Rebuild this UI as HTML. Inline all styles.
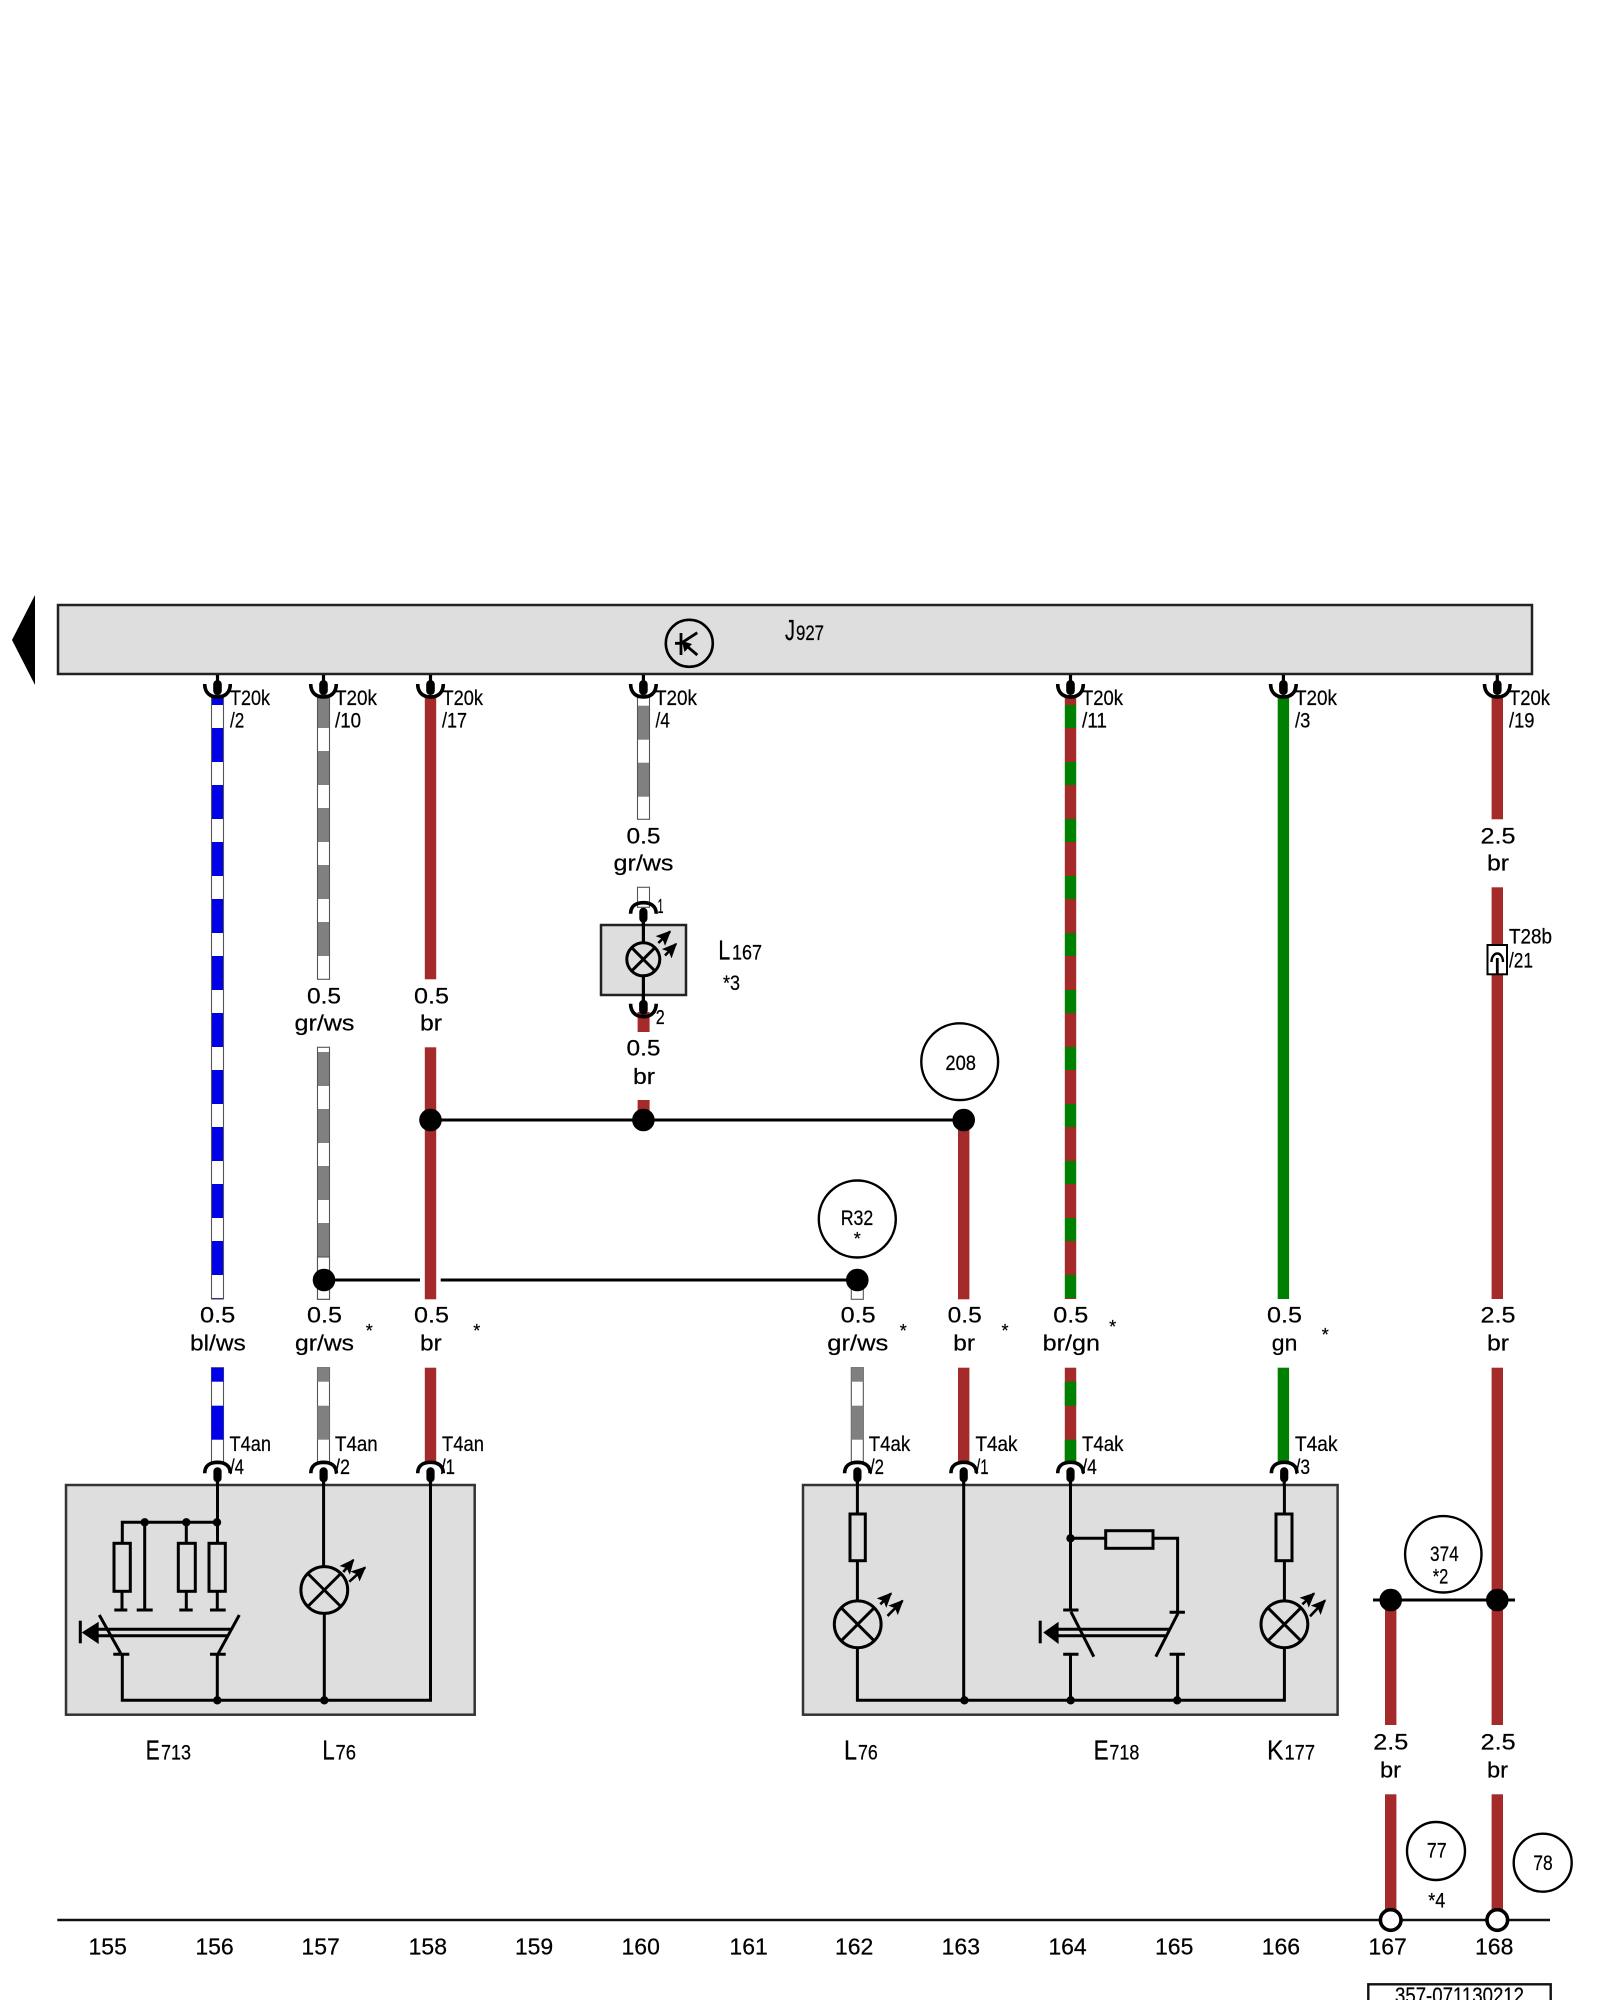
<!DOCTYPE html>
<html lang="de"><head><meta charset="utf-8"><title>Wiring diagram 357-071130212</title>
<style>html,body{margin:0;padding:0;background:#fff}svg{display:block}text{font-family:"Liberation Sans",Arial,sans-serif;fill:#000;stroke:#000;stroke-width:.22}</style></head>
<body>
<svg xmlns="http://www.w3.org/2000/svg" width="1600" height="2000" viewBox="0 0 1600 2000">
<defs>
<pattern id="pA" patternUnits="userSpaceOnUse" x="0" y="728" width="1600" height="57"><rect width="1600" height="57" fill="#fff"/><rect width="1600" height="34" fill="#0000e8"/></pattern>
<pattern id="pB" patternUnits="userSpaceOnUse" x="0" y="751" width="1600" height="57"><rect width="1600" height="57" fill="#fff"/><rect width="1600" height="34" fill="#808080"/></pattern>
<pattern id="pC" patternUnits="userSpaceOnUse" x="0" y="1052" width="1600" height="57"><rect width="1600" height="57" fill="#fff"/><rect width="1600" height="34" fill="#808080"/></pattern>
<pattern id="pD" patternUnits="userSpaceOnUse" x="0" y="705.7" width="1600" height="57"><rect width="1600" height="57" fill="#fff"/><rect width="1600" height="34" fill="#808080"/></pattern>
<pattern id="pE" patternUnits="userSpaceOnUse" x="0" y="728" width="1600" height="57"><rect width="1600" height="57" fill="#008000"/><rect width="1600" height="34" fill="#a52a2a"/></pattern>
<marker id="ah" viewBox="0 0 10 10" refX="9" refY="5" markerWidth="15" markerHeight="15" orient="auto" markerUnits="userSpaceOnUse"><path d="M0 0.5L10 5L0 9.5L2 5Z" fill="#000"/></marker>
<g id="cup"><line x1="0" y1="0" x2="0" y2="8" stroke="#000" stroke-width="3.2"/><rect x="-4.3" y="5" width="8.6" height="15" rx="4.3" fill="#000"/><path d="M-12.8 9C-12.8 18-7 22 0 22C7 22 12.8 18 12.8 9" fill="none" stroke="#000" stroke-width="3.6"/></g>
<g id="arc"><rect x="-4.1" y="5" width="8.2" height="15" rx="4.1" fill="#000"/><line x1="0" y1="15" x2="0" y2="23" stroke="#000" stroke-width="3.2"/><path d="M-12.8 11C-12.8 3-7 0 0 0C7 0 12.8 3 12.8 11" fill="none" stroke="#000" stroke-width="3.6"/></g>
<g id="lamp" fill="none" stroke="#000" stroke-width="3"><circle r="23.4"/><path d="M-16.5 -16.5L16.5 16.5M16.5 -16.5L-16.5 16.5"/></g>
</defs>
<rect width="1600" height="2000" fill="#fff"/>

<!-- top module -->
<polygon points="12,640 35,595 35,685" fill="#000"/>
<rect x="58" y="605" width="1474" height="69" fill="#dedede" stroke="#222" stroke-width="2.5"/>
<circle cx="689.3" cy="643.3" r="23.5" fill="none" stroke="#000" stroke-width="2.6"/>
<path d="M675 643.3H681M681 633V655M681 643.3L697.3 632.7M681.7 641.7L697.3 655" stroke="#000" stroke-width="2.8" fill="none"/>
<polygon points="682,641 692,644 684.5,652" fill="#000"/>
<text x="785" y="640" font-size="29" textLength="10" lengthAdjust="spacingAndGlyphs">J</text>
<text x="796" y="640" font-size="21" textLength="28" lengthAdjust="spacingAndGlyphs">927</text>

<!-- wires: long segments -->
<g stroke="#555" stroke-width="1.1">
<rect x="211.5" y="695" width="12" height="604" fill="url(#pA)"/>
<rect x="317.5" y="695" width="12" height="284.3" fill="url(#pB)"/>
<rect x="317.5" y="1047.3" width="12" height="252" fill="url(#pC)"/>
<rect x="317.5" y="1257" width="12" height="42.3" fill="#fff"/>
<rect x="637.5" y="695" width="12" height="124.3" fill="url(#pD)"/>
<rect x="637.5" y="887.3" width="12" height="20" fill="#fff"/>
<rect x="851.3" y="1280" width="12" height="19.3" fill="#fff"/>
</g>
<rect x="1064.8" y="695" width="11.4" height="604" fill="url(#pE)"/>
<g fill="#a52a2a">
<rect x="424.8" y="695" width="11.4" height="284.3"/>
<rect x="424.8" y="1047.3" width="11.4" height="252"/>
<rect x="424.8" y="1367.7" width="11.4" height="96"/>
<rect x="958" y="1120" width="11.4" height="179.3"/>
<rect x="958" y="1367.7" width="11.4" height="96"/>
<rect x="1491.6" y="695" width="11.4" height="124.3"/>
<rect x="1491.6" y="887.3" width="11.4" height="411.7"/>
<rect x="1491.6" y="1367.7" width="11.4" height="357.3"/>
<rect x="1491.6" y="1794.3" width="11.4" height="116"/>
<rect x="1385" y="1600" width="11.4" height="125"/>
<rect x="1385" y="1794.3" width="11.4" height="116"/>
<rect x="637.6" y="1012" width="12" height="20"/>
<rect x="637.6" y="1100" width="12" height="20"/>
</g>
<rect x="1277.7" y="695" width="11.4" height="604" fill="#008000"/>
<rect x="1277.7" y="1367.7" width="11.4" height="96" fill="#008000"/>

<!-- wires: short lower striped -->
<g stroke="#555" stroke-width="1.1" fill="#fff">
<rect x="211.5" y="1367.7" width="12" height="96"/>
<rect x="317.5" y="1367.7" width="12" height="96"/>
<rect x="851.3" y="1367.7" width="12" height="96"/>
</g>
<g fill="#0000e8"><rect x="211.5" y="1367.7" width="12" height="14"/><rect x="211.5" y="1405.7" width="12" height="34"/></g>
<g fill="#808080"><rect x="317.5" y="1367.7" width="12" height="14"/><rect x="317.5" y="1405.7" width="12" height="34"/><rect x="851.3" y="1367.7" width="12" height="14"/><rect x="851.3" y="1405.7" width="12" height="34"/></g>
<rect x="1064.8" y="1367.7" width="11.4" height="96" fill="#a52a2a"/>
<g fill="#008000"><rect x="1064.8" y="1381.7" width="11.4" height="24"/><rect x="1064.8" y="1439.7" width="11.4" height="24"/></g>

<!-- connection lines -->
<g stroke="#000" stroke-width="3" fill="none">
<path d="M430.5 1120H964"/>
<path d="M324 1280H420M440.7 1280H857.3"/>
<path d="M1373 1600H1515"/>
</g>
<g fill="#000">
<circle cx="430.5" cy="1120" r="11.3"/><circle cx="643.4" cy="1120" r="11.3"/><circle cx="963.7" cy="1120" r="11.3"/>
<circle cx="324" cy="1280" r="11.3"/><circle cx="857.3" cy="1280" r="11.3"/>
<circle cx="1390.7" cy="1600" r="11.3"/><circle cx="1497.3" cy="1600" r="11.3"/>
</g>

<!-- top connectors -->
<use href="#cup" x="217.5" y="675"/><use href="#cup" x="323.5" y="675"/><use href="#cup" x="430.5" y="675"/><use href="#cup" x="643.4" y="675"/>
<use href="#cup" x="1070.5" y="675"/><use href="#cup" x="1283.4" y="675"/><use href="#cup" x="1497.3" y="675"/>
<g font-size="21">
<text x="230" y="705" textLength="40" lengthAdjust="spacingAndGlyphs">T20k</text><text x="230" y="727.7" textLength="14.3" lengthAdjust="spacingAndGlyphs">/2</text>
<text x="335" y="705" textLength="42" lengthAdjust="spacingAndGlyphs">T20k</text><text x="335" y="727.7" textLength="26" lengthAdjust="spacingAndGlyphs">/10</text>
<text x="442.5" y="705" textLength="40.5" lengthAdjust="spacingAndGlyphs">T20k</text><text x="442" y="727.7" textLength="25" lengthAdjust="spacingAndGlyphs">/17</text>
<text x="655" y="705" textLength="42" lengthAdjust="spacingAndGlyphs">T20k</text><text x="655.5" y="727.7" textLength="14.3" lengthAdjust="spacingAndGlyphs">/4</text>
<text x="1082" y="705" textLength="41" lengthAdjust="spacingAndGlyphs">T20k</text><text x="1082" y="727.7" textLength="25" lengthAdjust="spacingAndGlyphs">/11</text>
<text x="1295" y="705" textLength="42" lengthAdjust="spacingAndGlyphs">T20k</text><text x="1295" y="727.7" textLength="15.3" lengthAdjust="spacingAndGlyphs">/3</text>
<text x="1509" y="705" textLength="41" lengthAdjust="spacingAndGlyphs">T20k</text><text x="1509" y="727.7" textLength="25.5" lengthAdjust="spacingAndGlyphs">/19</text>
<text x="1509" y="943.3" textLength="43" lengthAdjust="spacingAndGlyphs">T28b</text><text x="1509" y="967.3" textLength="24" lengthAdjust="spacingAndGlyphs">/21</text>
</g>

<!-- T28b inline connector -->
<rect x="1487.5" y="945" width="19.5" height="29.3" fill="#fff" stroke="#000" stroke-width="2"/>
<path d="M1491.5 962C1491.5 956.5 1494.5 953.5 1497.3 953.5C1500.1 953.5 1503 956.5 1503 962" fill="none" stroke="#000" stroke-width="2.4"/>
<path d="M1497.3 958V974" stroke="#000" stroke-width="2.8"/>

<!-- L167 -->
<rect x="601" y="925" width="85" height="70" fill="#dedede" stroke="#222" stroke-width="2.5"/>
<path d="M643.4 921V943M643.4 976V1000" stroke="#000" stroke-width="3.2"/>
<g fill="none" stroke="#000" stroke-width="3"><circle cx="643.3" cy="959.3" r="16.5"/><path d="M631.6 947.6L655 971M655 947.6L631.6 971"/></g>
<g stroke="#000" stroke-width="2.6" fill="none"><path d="M658.3 943L670 931.6" marker-end="url(#ah)"/><path d="M665 955.5L676 944" marker-end="url(#ah)"/></g>
<use href="#arc" x="643.4" y="902.7"/><use href="#cup" x="643.4" y="994.7"/>
<text x="657.5" y="913" font-size="20" textLength="6" lengthAdjust="spacingAndGlyphs">1</text>
<text x="655.7" y="1024" font-size="20" textLength="9" lengthAdjust="spacingAndGlyphs">2</text>
<text x="718.3" y="959.3" font-size="28" textLength="12" lengthAdjust="spacingAndGlyphs">L</text>
<text x="732" y="959.3" font-size="21" textLength="30" lengthAdjust="spacingAndGlyphs">167</text>
<text x="723" y="990" font-size="21" textLength="17" lengthAdjust="spacingAndGlyphs">*3</text>

<!-- reference circles -->
<g fill="none" stroke="#000" stroke-width="2.4">
<circle cx="959.7" cy="1061.7" r="38.4"/><circle cx="857.3" cy="1219" r="38.5"/><circle cx="1443.3" cy="1554.3" r="38.2"/><circle cx="1436" cy="1851" r="29"/><circle cx="1542.7" cy="1862.7" r="29"/>
</g>
<g font-size="21">
<text x="945.4" y="1070" textLength="30.6" lengthAdjust="spacingAndGlyphs">208</text>
<text x="840.7" y="1225" textLength="32.6" lengthAdjust="spacingAndGlyphs">R32</text>
<text x="1430" y="1561" textLength="28.7" lengthAdjust="spacingAndGlyphs">374</text>
<text x="1432.7" y="1583.3" textLength="15.6" lengthAdjust="spacingAndGlyphs">*2</text>
<text x="1426.7" y="1857.7" textLength="20" lengthAdjust="spacingAndGlyphs">77</text>
<text x="1533.3" y="1870" textLength="19.4" lengthAdjust="spacingAndGlyphs">78</text>
<text x="1428.3" y="1907.7" textLength="17" lengthAdjust="spacingAndGlyphs">*4</text>
</g>
<text x="857.3" y="1245" font-size="18" text-anchor="middle">*</text>

<!-- gauge/colour labels -->
<g font-size="22.5">
<text x="626.5" y="843.3" textLength="34" lengthAdjust="spacingAndGlyphs">0.5</text><text x="613.5" y="870.7" textLength="60" lengthAdjust="spacingAndGlyphs">gr/ws</text>
<text x="1480.5" y="843.3" textLength="35" lengthAdjust="spacingAndGlyphs">2.5</text><text x="1487" y="870.7" textLength="22" lengthAdjust="spacingAndGlyphs">br</text>
<text x="307" y="1003.3" textLength="34" lengthAdjust="spacingAndGlyphs">0.5</text><text x="294.5" y="1030.7" textLength="60" lengthAdjust="spacingAndGlyphs">gr/ws</text>
<text x="414" y="1003.3" textLength="35" lengthAdjust="spacingAndGlyphs">0.5</text><text x="420" y="1030.7" textLength="22" lengthAdjust="spacingAndGlyphs">br</text>
<text x="626.5" y="1055.7" textLength="34" lengthAdjust="spacingAndGlyphs">0.5</text><text x="633" y="1084" textLength="22" lengthAdjust="spacingAndGlyphs">br</text>

<text x="200" y="1322.3" textLength="35.3" lengthAdjust="spacingAndGlyphs">0.5</text><text x="190" y="1350.7" textLength="55.7" lengthAdjust="spacingAndGlyphs">bl/ws</text>
<text x="307" y="1322.3" textLength="35" lengthAdjust="spacingAndGlyphs">0.5</text><text x="295" y="1350.7" textLength="59" lengthAdjust="spacingAndGlyphs">gr/ws</text>
<text x="414" y="1322.3" textLength="35" lengthAdjust="spacingAndGlyphs">0.5</text><text x="420" y="1350.7" textLength="21.7" lengthAdjust="spacingAndGlyphs">br</text>
<text x="840.7" y="1322.3" textLength="35" lengthAdjust="spacingAndGlyphs">0.5</text><text x="827.3" y="1350.7" textLength="61" lengthAdjust="spacingAndGlyphs">gr/ws</text>
<text x="947.7" y="1322.3" textLength="34" lengthAdjust="spacingAndGlyphs">0.5</text><text x="953.3" y="1350.7" textLength="21.7" lengthAdjust="spacingAndGlyphs">br</text>
<text x="1053.3" y="1322.3" textLength="35" lengthAdjust="spacingAndGlyphs">0.5</text><text x="1042.7" y="1350.7" textLength="57.3" lengthAdjust="spacingAndGlyphs">br/gn</text>
<text x="1267" y="1322.3" textLength="35" lengthAdjust="spacingAndGlyphs">0.5</text><text x="1271.8" y="1350.7" textLength="25.6" lengthAdjust="spacingAndGlyphs">gn</text>
<text x="1480.5" y="1322.3" textLength="35" lengthAdjust="spacingAndGlyphs">2.5</text><text x="1487" y="1350.7" textLength="22" lengthAdjust="spacingAndGlyphs">br</text>

<text x="1373.3" y="1749.3" textLength="35" lengthAdjust="spacingAndGlyphs">2.5</text><text x="1380" y="1777.3" textLength="21" lengthAdjust="spacingAndGlyphs">br</text>
<text x="1480.7" y="1749.3" textLength="35" lengthAdjust="spacingAndGlyphs">2.5</text><text x="1487" y="1777.3" textLength="21" lengthAdjust="spacingAndGlyphs">br</text>
</g>
<g font-size="18" text-anchor="middle">
<text x="369.3" y="1337">*</text><text x="476.7" y="1337">*</text><text x="903.3" y="1337">*</text><text x="1005" y="1337">*</text><text x="1112.6" y="1333">*</text><text x="1325.3" y="1341">*</text>
</g>

<!-- lower boxes -->
<rect x="66" y="1485" width="408.7" height="229.7" fill="#dedede" stroke="#333" stroke-width="2.5"/>
<rect x="803" y="1485" width="534.6" height="229.7" fill="#dedede" stroke="#333" stroke-width="2.5"/>
<use href="#arc" x="217.5" y="1462.3"/><use href="#arc" x="323.6" y="1462.3"/><use href="#arc" x="430.5" y="1462.3"/>
<use href="#arc" x="857.4" y="1462.3"/><use href="#arc" x="963.7" y="1462.3"/><use href="#arc" x="1070.5" y="1462.3"/><use href="#arc" x="1284.2" y="1462.3"/>
<g font-size="21">
<text x="229.5" y="1451" textLength="41.5" lengthAdjust="spacingAndGlyphs">T4an</text><text x="230" y="1474" textLength="14" lengthAdjust="spacingAndGlyphs">/4</text>
<text x="335" y="1451" textLength="42.7" lengthAdjust="spacingAndGlyphs">T4an</text><text x="335" y="1474" textLength="15" lengthAdjust="spacingAndGlyphs">/2</text>
<text x="442" y="1451" textLength="42" lengthAdjust="spacingAndGlyphs">T4an</text><text x="441" y="1474" textLength="14" lengthAdjust="spacingAndGlyphs">/1</text>
<text x="868.7" y="1451" textLength="41.5" lengthAdjust="spacingAndGlyphs">T4ak</text><text x="870" y="1474" textLength="14" lengthAdjust="spacingAndGlyphs">/2</text>
<text x="975.5" y="1451" textLength="42" lengthAdjust="spacingAndGlyphs">T4ak</text><text x="976" y="1474" textLength="12.6" lengthAdjust="spacingAndGlyphs">/1</text>
<text x="1082" y="1451" textLength="41.5" lengthAdjust="spacingAndGlyphs">T4ak</text><text x="1082.3" y="1474" textLength="14.6" lengthAdjust="spacingAndGlyphs">/4</text>
<text x="1295" y="1451" textLength="42.5" lengthAdjust="spacingAndGlyphs">T4ak</text><text x="1295.5" y="1474" textLength="14.5" lengthAdjust="spacingAndGlyphs">/3</text>
</g>

<!-- E713 / L76 internals -->
<g fill="none" stroke="#000" stroke-width="3">
<path d="M217.5 1485V1543M122.3 1543V1522.3H217.5M144.7 1522.3V1610M186.3 1522.3V1543"/>
<rect x="114" y="1543.3" width="16.3" height="48"/><rect x="178.3" y="1543.3" width="17" height="48"/><rect x="209" y="1543.3" width="16.3" height="48"/>
<path d="M122 1591V1610M186.3 1591V1610M217.3 1591V1610"/>
<path d="M114.3 1610H127.3M136.7 1610H152.7M179.3 1610H192.7M210 1610H225.7"/>
<path d="M99.3 1615L120.7 1653.3M239.3 1615L218.3 1653.3"/>
<path d="M113.3 1654.3H129.3M210 1654.3H225.7"/>
<path d="M122.3 1654V1700.3H430.5V1485M217.3 1654V1700M323.6 1485V1567M324.3 1613V1700"/>
<path d="M90 1629.3H230.7M90 1635.7H228"/>
<path d="M80.3 1620.7V1643.3"/>
</g>
<polygon points="81.7,1632.5 98.7,1621.7 98.7,1644" fill="#000"/>
<g fill="#000"><circle cx="144.7" cy="1522.3" r="4.2"/><circle cx="186.3" cy="1522.3" r="4.2"/><circle cx="217" cy="1522.3" r="4.2"/><circle cx="217.3" cy="1700.3" r="4.2"/><circle cx="324.3" cy="1700.3" r="4.2"/></g>
<use href="#lamp" x="324.3" y="1590"/>
<path d="M343.3 1572L353.3 1560" stroke="#000" stroke-width="2.6" fill="none" marker-end="url(#ah)"/>
<path d="M349.3 1581.7L365 1567.5" stroke="#000" stroke-width="2.6" fill="none" marker-end="url(#ah)"/>

<!-- right box internals -->
<g fill="none" stroke="#000" stroke-width="3">
<path d="M857.4 1485V1514M857.4 1560.7V1601M857.4 1648V1700.3H1284.4V1648M963.7 1485V1700.3"/>
<rect x="850" y="1514" width="15.3" height="46.7"/>
<path d="M1284.4 1485V1514M1284.4 1560.7V1601"/>
<rect x="1276" y="1514" width="16" height="46.7"/>
<path d="M1070.5 1485V1610M1063.2 1610H1078.5M1070.5 1538.3H1105.7M1153 1538.3H1177.6V1612.3M1169.6 1612.3H1184.9"/>
<rect x="1105.7" y="1530.7" width="47.3" height="17.6"/>
<path d="M1070.9 1611.7L1093.8 1656.7M1178 1613.3L1155.8 1656.7"/>
<path d="M1063.2 1654.3H1078.5M1169.6 1654.3H1184.9M1070.5 1654.3V1700M1177.6 1654.3V1700"/>
<path d="M1050 1629.3H1169.6M1050 1635.7H1167"/>
<path d="M1040.2 1620.7V1643.3"/>
</g>
<polygon points="1043.3,1632.5 1058.6,1621.7 1058.6,1644" fill="#000"/>
<g fill="#000"><circle cx="1070.5" cy="1538.3" r="4.2"/><circle cx="964.4" cy="1700.3" r="4.2"/><circle cx="1070.7" cy="1700.3" r="4.2"/><circle cx="1177.2" cy="1700.3" r="4.2"/></g>
<use href="#lamp" x="857.7" y="1624.3"/><use href="#lamp" x="1284.4" y="1624.3"/>
<g stroke="#000" stroke-width="2.6" fill="none">
<path d="M880.3 1604.3L891 1593.5" marker-end="url(#ah)"/><path d="M887.5 1615.9L902.5 1600.8" marker-end="url(#ah)"/>
<path d="M1302.4 1604.3L1314 1593.5" marker-end="url(#ah)"/><path d="M1310 1616.3L1325 1600.5" marker-end="url(#ah)"/>
</g>

<!-- component labels -->
<g>
<text x="145.7" y="1759.3" font-size="28" textLength="14" lengthAdjust="spacingAndGlyphs">E</text><text x="161" y="1759.3" font-size="21" textLength="30" lengthAdjust="spacingAndGlyphs">713</text>
<text x="322.3" y="1759.3" font-size="28" textLength="12.5" lengthAdjust="spacingAndGlyphs">L</text><text x="335.5" y="1759.3" font-size="21" textLength="20.5" lengthAdjust="spacingAndGlyphs">76</text>
<text x="844" y="1759.3" font-size="28" textLength="13" lengthAdjust="spacingAndGlyphs">L</text><text x="858" y="1759.3" font-size="21" textLength="19.8" lengthAdjust="spacingAndGlyphs">76</text>
<text x="1093.6" y="1759.3" font-size="28" textLength="15" lengthAdjust="spacingAndGlyphs">E</text><text x="1109.4" y="1759.3" font-size="21" textLength="30" lengthAdjust="spacingAndGlyphs">718</text>
<text x="1267" y="1759.3" font-size="28" textLength="16.5" lengthAdjust="spacingAndGlyphs">K</text><text x="1284.5" y="1759.3" font-size="21" textLength="30.5" lengthAdjust="spacingAndGlyphs">177</text>
</g>

<!-- bottom axis -->
<line x1="57.3" y1="1920" x2="1550" y2="1920" stroke="#111" stroke-width="2.6"/>
<circle cx="1390.7" cy="1920" r="10.3" fill="#fff" stroke="#000" stroke-width="3.6"/>
<circle cx="1497.3" cy="1920" r="10.3" fill="#fff" stroke="#000" stroke-width="3.6"/>
<g font-size="23" text-anchor="middle">
<text x="107.7" y="1954.3">155</text><text x="214.5" y="1954.3">156</text><text x="320.6" y="1954.3">157</text><text x="427.8" y="1954.3">158</text>
<text x="534" y="1954.3">159</text><text x="640.7" y="1954.3">160</text><text x="748.6" y="1954.3">161</text><text x="854.1" y="1954.3">162</text>
<text x="960.8" y="1954.3">163</text><text x="1067.5" y="1954.3">164</text><text x="1174.2" y="1954.3">165</text><text x="1280.9" y="1954.3">166</text>
<text x="1387.6" y="1954.3">167</text><text x="1494.2" y="1954.3">168</text>
</g>
<rect x="1368.3" y="1984.3" width="182.4" height="30" fill="#fff" stroke="#111" stroke-width="2.4"/>
<text x="1395" y="2003" font-size="22" textLength="129" lengthAdjust="spacingAndGlyphs">357-071130212</text>
</svg>
</body></html>
